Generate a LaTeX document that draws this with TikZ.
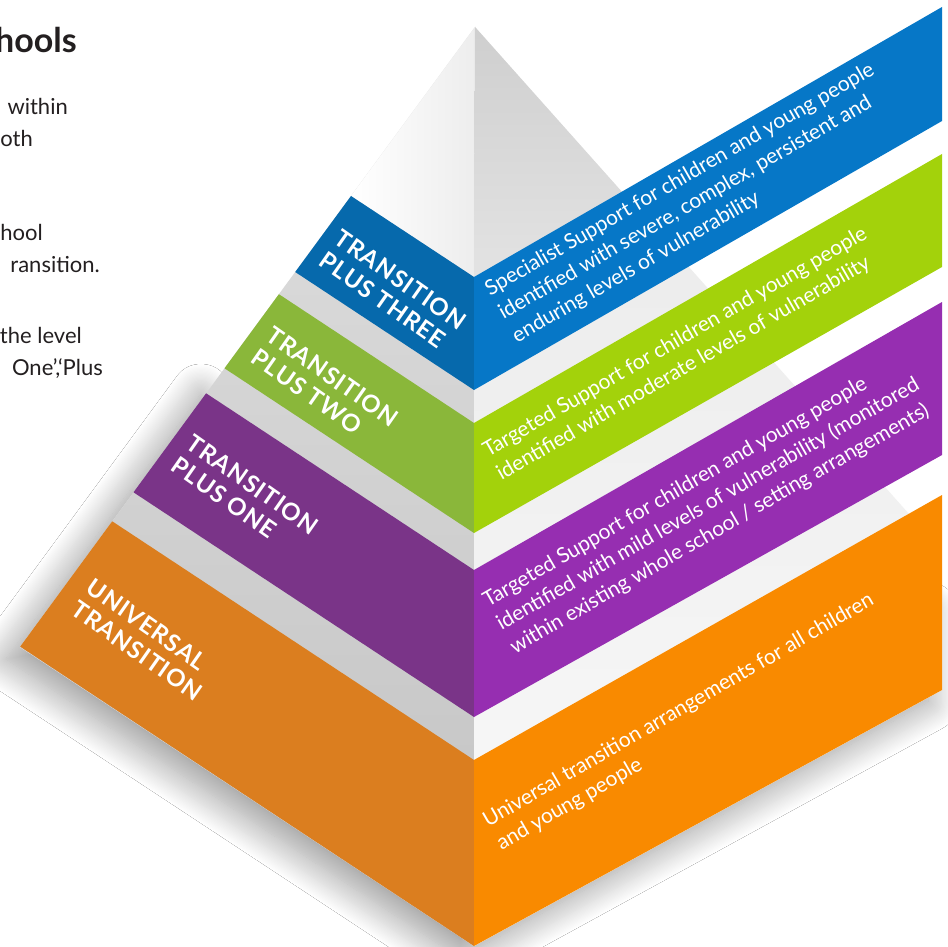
\documentclass[tikz,border=0pt]{standalone}
\usepackage{fontspec}
\setmainfont{Lato}
\usetikzlibrary{shadows.blur}
\definecolor{leftblue}{HTML}{0669AC}
\definecolor{rightblue}{HTML}{0677C7}
\definecolor{leftgreen}{HTML}{8AB73A}
\definecolor{rightgreen}{HTML}{A3D20B}
\definecolor{leftpurple}{HTML}{7A3488}
\definecolor{rightpurple}{HTML}{962EB1}
\definecolor{leftorange}{HTML}{DB7E1F}
\definecolor{rightorange}{HTML}{F98A00}
\definecolor{pagegrey}{HTML}{231F20}
\tikzset{
	tierlabel/.style={
			text=white, inner sep=0pt, anchor=north west, align=left, rotate=-35,
			font=\fontsize{24}{27}\selectfont\bfseries\addfontfeature{LetterSpace=4}
		},
	tiertext/.style={
			text=white, inner sep=0pt, anchor=north west, align=left, rotate=30,
			font=\fontsize{21}{27}\selectfont
		},
	pagetext/.style={
			text=pagegrey, inner sep=0pt, anchor=base east,
			font=\fontsize{22}{32}\selectfont
		}
}

\begin{document}
\begin{tikzpicture}[x=1pt,y=-1pt]
	\useasboundingbox (0,0) rectangle (948,947);
	\fill[white] (0,0) rectangle (948,947);

	% text of the page behind the pyramid
	\node[pagetext, font=\fontsize{34}{40}\selectfont\bfseries] (title) at (77,53) {hools};
	\node[pagetext] (pa) at (68,115) {within};
	\node[pagetext] (pb) at (33,147) {oth};
	\node[pagetext] (pc) at (43,240) {hool};
	\node[pagetext] (pd) at (100,272) {ransition.};
	\node[pagetext] (pe) at (82,343) {the level};
	\node[pagetext] (pf) at (103,375) {One’,‘Plus};

	% soft shadow under the lower part of the pyramid
	\fill[white, blur shadow={shadow xshift=-14pt, shadow yshift=-12pt, shadow blur radius=30pt,
				shadow blur steps=25, shadow opacity=40}]
	(215,382) -- (20,647) -- (474,946) -- (942,690) -- (942,600) -- (474,800) -- cycle;

	% faces of the pyramid
	\shade[top color=black!12, bottom color=black!24] (475,27) -- (20,647) -- (474,946) -- cycle;
	\shade[top color=black!9, bottom color=black!2] (475,27) -- (942,551) -- (942,690) -- (474,946) -- cycle;

	% top of the pyramid
	\shade[left color=white, right color=black!7] (475,27) -- (351,196) -- (474,277) -- cycle;
	\shade[top color=black!19, bottom color=black!11] (475,27) -- (622,192) -- (474,277) -- cycle;

	% tiers: left face and right face
	\foreach \xa/\ya/\xb/\yb/\yc/\yd/\ye/\yf/\c in {
			351/196/295.2/272/277/390/7/121/blue,
			278.9/294.2/224.5/368.3/423/533/154/267/green,
			206.1/393.3/133.5/492.3/570/717/302/455/purple,
			112.2/521.3/20.2/646.6/760/946/495/690/orange}{
			\fill[left\c] (\xa,\ya) -- (474,\yc) -- (474,\yd) -- (\xb,\yb) -- cycle;
			\fill[right\c] (474,\yc) -- (942,\ye) -- (942,\yf) -- (474,\yd) -- cycle;
		}

	% tier names
	\node[tierlabel] (lblthree) at (343,228) {TRANSITION\\PLUS THREE};
	\node[tierlabel] (lbltwo) at (275,325) {TRANSITION\\PLUS TWO};
	\node[tierlabel] (lblone) at (195,433) {TRANSITION\\PLUS ONE};
	\node[tierlabel] (lbluni) at (95,577) {UNIVERSAL\\TRANSITION};

	% tier descriptions
	\node[tiertext] (txtthree) at (482,283) {Specialist Support for children and young people\\identified with severe, complex, persistent and\\enduring levels of vulnerability};
	\node[tiertext] (txttwo) at (480,444) {Targeted Support for children and young people\\identified with moderate levels of vulnerability};
	\node[tiertext] (txtone) at (480,594) {Targeted Support for children and young people\\identified with mild levels of vulnerability (monitored\\within existing whole school / setting arrangements)};
	\node[tiertext] (txtuni) at (480,814) {Universal transition arrangements for all children\\and young people};
\end{tikzpicture}
\end{document}
